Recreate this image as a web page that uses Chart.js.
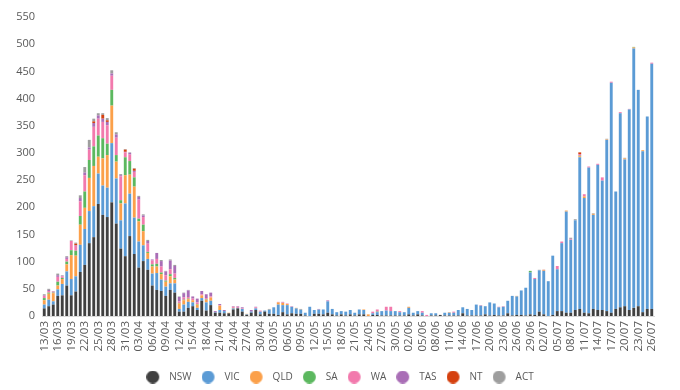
<!DOCTYPE html>
<html>
<head>
<meta charset="utf-8">
<script src="https://cdn.jsdelivr.net/npm/chart.js@4/dist/chart.umd.min.js"></script>
<style>
  html, body { margin: 0; padding: 0; background: #ffffff; }
  #wrap { width: 680px; height: 390px; }
</style>
</head>
<body>
<div id="wrap"><canvas id="c" width="680" height="390"></canvas></div>
<script>
const dates = [
  "13/03","14/03","15/03","16/03","17/03","18/03","19/03","20/03","21/03","22/03",
  "23/03","24/03","25/03","26/03","27/03","28/03","29/03","30/03","31/03","01/04",
  "02/04","03/04","04/04","05/04","06/04","07/04","08/04","09/04","10/04","11/04",
  "12/04","13/04","14/04","15/04","16/04","17/04","18/04","19/04","20/04","21/04",
  "22/04","23/04","24/04","25/04","26/04","27/04","28/04","29/04","30/04","01/05",
  "02/05","03/05","04/05","05/05","06/05","07/05","08/05","09/05","10/05","11/05",
  "12/05","13/05","14/05","15/05","16/05","17/05","18/05","19/05","20/05","21/05",
  "22/05","23/05","24/05","25/05","26/05","27/05","28/05","29/05","30/05","31/05",
  "01/06","02/06","03/06","04/06","05/06","06/06","07/06","08/06","09/06","10/06",
  "11/06","12/06","13/06","14/06","15/06","16/06","17/06","18/06","19/06","20/06",
  "21/06","22/06","23/06","24/06","25/06","26/06","27/06","28/06","29/06","30/06",
  "01/07","02/07","03/07","04/07","05/07","06/07","07/07","08/07","09/07","10/07",
  "11/07","12/07","13/07","14/07","15/07","16/07","17/07","18/07","19/07","20/07",
  "21/07","22/07","23/07","24/07","25/07","26/07"
];

const nsw = [
  14,18,21,37,38,56,38,45,81,94,
  134,145,206,186,182,209,170,124,110,147,
  114,89,101,85,56,48,46,37,48,43,
  8,8,15,18,11,28,10,20,6,6,
  5,5,12,14,8,2,6,11,3,8,
  4,4,2,7,3,5,4,4,1,0,
  4,4,3,6,3,1,3,1,3,1,
  3,3,0,2,2,1,1,1,1,1,
  1,3,1,3,1,0,1,1,2,1,
  1,1,1,5,1,1,1,1,3,1,
  2,1,1,5,1,2,2,1,3,2,
  8,3,0,2,9,9,6,6,11,13,
  6,5,13,11,11,9,6,13,16,18,
  11,15,18,7,13,13
];
const vic = [
  7,12,6,12,21,26,30,28,50,66,
  59,57,56,54,54,109,83,52,97,78,
  67,48,29,20,22,31,21,17,12,17,
  5,13,11,7,4,5,15,8,1,5,
  4,0,2,1,5,1,2,3,5,2,
  8,12,19,13,17,12,10,8,5,17,
  7,8,9,21,10,6,6,7,8,5,
  9,8,0,3,5,8,9,8,8,6,
  6,12,5,6,5,0,4,4,0,5,
  5,5,10,11,12,10,20,18,15,24,
  21,15,16,23,36,34,45,51,77,66,
  76,80,64,109,77,125,186,134,165,279,
  211,268,173,267,238,315,423,216,357,270,
  369,477,398,296,354,451
];
const qld = [
  8,11,15,7,9,13,44,38,37,39,
  61,74,31,50,60,69,31,31,52,35,
  57,37,26,11,13,12,10,9,13,7,
  10,8,5,4,6,5,5,6,0,8,
  0,1,1,0,0,1,0,0,0,0,
  1,0,4,4,2,0,1,1,0,0,
  0,0,0,0,0,0,0,0,0,0,
  0,1,3,0,0,0,0,0,0,0,
  0,2,0,0,0,0,0,0,0,0,
  1,0,0,0,0,0,0,0,0,0,
  0,0,0,0,0,1,0,0,0,0,
  0,1,0,0,0,0,2,0,0,2,
  3,0,2,0,0,1,0,0,0,2,
  0,2,0,2,0,0
];
const sa = [
  4,2,1,7,2,5,9,9,16,30,
  33,36,39,37,21,29,12,6,33,25,
  17,5,12,2,4,5,3,2,4,3,
  1,1,1,0,1,0,1,0,0,0,
  0,0,0,0,0,0,0,0,0,0,
  0,0,0,0,0,0,0,0,0,0,
  0,0,0,0,0,0,0,0,0,0,
  0,0,0,0,1,0,0,0,0,0,
  0,0,0,0,0,0,0,0,0,0,
  0,0,0,0,0,0,0,0,0,0,
  0,0,0,0,0,0,0,0,3,0,
  0,0,0,0,0,0,0,0,0,1,
  0,0,0,0,0,0,0,0,0,0,
  0,1,0,0,0,0
];
const wa = [
  4,3,2,9,3,5,17,9,27,30,
  19,36,31,30,34,26,32,44,9,12,
  10,35,14,15,7,9,11,10,9,8,
  3,4,3,3,3,2,2,2,0,1,
  0,0,2,2,1,0,0,2,2,0,
  0,0,1,1,1,1,0,0,0,0,
  0,1,0,1,0,0,0,0,0,0,
  0,0,0,3,4,0,7,8,0,2,
  0,0,0,0,3,2,0,0,0,0,
  0,2,0,0,0,0,0,1,0,0,
  0,1,1,0,0,0,0,0,0,2,
  0,0,0,0,6,3,0,1,0,3,
  4,2,0,2,6,0,2,0,2,0,
  1,0,0,0,0,2
];
const tas = [
  1,2,0,3,1,3,0,1,6,5,
  4,7,6,6,6,4,6,2,1,3,
  2,5,3,5,2,11,10,7,16,14,
  8,8,12,4,7,6,7,7,2,2,
  2,0,1,1,2,0,3,1,0,0,
  0,0,0,1,0,0,0,0,0,0,
  0,0,0,1,0,0,0,0,0,0,
  0,0,0,0,0,0,0,0,0,0,
  0,0,0,0,0,0,0,0,0,0,
  0,0,0,0,0,0,0,0,0,0,
  0,0,0,0,0,0,0,0,0,0,
  0,0,0,0,0,0,0,1,0,0,
  0,0,0,0,0,0,0,0,0,0,
  0,0,0,0,0,0
];
const nt = [
  0,0,0,0,0,0,0,3,0,0,
  0,3,0,7,3,0,0,0,4,0,
  4,0,0,0,0,0,0,0,0,0,
  0,0,0,0,0,0,0,0,0,0,
  0,0,0,0,0,0,0,0,0,0,
  0,0,0,0,0,0,0,0,0,0,
  0,0,0,0,0,0,0,0,0,0,
  0,0,0,0,0,0,0,0,0,0,
  0,0,0,0,0,0,0,0,0,0,
  0,0,0,0,0,0,0,0,0,0,
  0,0,0,0,0,0,0,0,0,0,
  0,1,0,0,0,0,0,0,0,3,
  0,0,0,0,0,0,0,0,0,0,
  0,0,0,0,0,0
];
const act = [
  2,2,1,3,1,2,1,2,5,10,
  14,5,4,3,4,6,4,2,1,1,
  1,2,2,2,0,0,2,1,2,2,
  1,1,1,0,0,0,0,0,0,0,
  0,0,0,0,0,0,0,0,0,0,
  0,0,0,0,0,0,0,0,0,0,
  0,0,0,0,0,0,0,0,0,0,
  0,0,0,0,0,0,0,0,0,0,
  0,0,0,0,0,0,0,0,0,0,
  0,0,0,0,0,0,0,0,0,0,
  0,0,0,0,0,0,0,0,0,0,
  1,0,0,0,0,0,0,2,2,0,
  0,0,1,0,0,1,0,0,0,1,
  0,0,0,0,0,0
];

const seriesNames = ["NSW","VIC","QLD","SA","WA","TAS","NT","ACT"];
const seriesData = [nsw, vic, qld, sa, wa, tas, nt, act];
const seriesColors = ["#404040","#5b9bd5","#fba04a","#5cb85f","#f27aad","#a96eb6","#d5410f","#9e9e9e"];
const yTicks = { min: 0, max: 550, step: 50 };

const FONT = "'Open Sans', 'Noto Sans', sans-serif";
const TEXT = "#595959";

function makeDot(color) {
  const cv = document.createElement('canvas');
  cv.width = 18; cv.height = 13;
  const g = cv.getContext('2d');
  g.fillStyle = color;
  g.beginPath();
  g.arc(6.5, 6.5, 6.5, 0, Math.PI * 2);
  g.fill();
  return cv;
}
const dots = seriesColors.map(makeDot);

const datasets = seriesNames.map((name, i) => ({
  label: name,
  data: seriesData[i],
  backgroundColor: seriesColors[i],
  borderWidth: 0,
  categoryPercentage: 1.0,
  barPercentage: 0.64
}));

new Chart(document.getElementById('c'), {
  type: 'bar',
  data: { labels: dates, datasets },
  options: {
    responsive: false,
    animation: false,
    layout: { padding: { left: 0, right: 0, top: 17, bottom: 0 } },
    plugins: {
      tooltip: { enabled: false },
      legend: {
        position: 'bottom',
        maxHeight: 28,
        labels: {
          usePointStyle: true,
          pointStyleWidth: 18,
          boxHeight: 10,
          padding: 10,
          color: TEXT,
          font: { family: FONT, size: 10 },
          generateLabels: (chart) => {
            const items = Chart.defaults.plugins.legend.labels.generateLabels(chart);
            items.forEach((it, i) => { it.pointStyle = dots[i]; });
            return items;
          }
        }
      }
    },
    scales: {
      x: {
        stacked: true,
        grid: { display: false, drawTicks: false },
        border: { display: true, color: '#d9d9d9', width: 1 },
        ticks: {
          autoSkip: false,
          minRotation: 90,
          maxRotation: 90,
          padding: 5,
          color: TEXT,
          font: { family: FONT, size: 11.5 },
          callback: function (val, idx) { return idx % 3 === 0 ? this.getLabelForValue(val) : ''; }
        },
        afterFit: (s) => { s.height = 46; }
      },
      y: {
        stacked: true,
        min: yTicks.min,
        max: yTicks.max,
        grid: { display: false, drawTicks: false },
        border: { display: false },
        ticks: {
          stepSize: yTicks.step,
          padding: 7,
          color: TEXT,
          font: { family: FONT, size: 11 }
        },
        afterFit: (s) => { s.width = 42; }
      },
      yRight: {
        position: 'right',
        display: true,
        grid: { display: false, drawTicks: false },
        border: { display: false },
        ticks: { display: false },
        afterFit: (s) => { s.width = 26; }
      }
    }
  }
});
</script>
</body>
</html>
